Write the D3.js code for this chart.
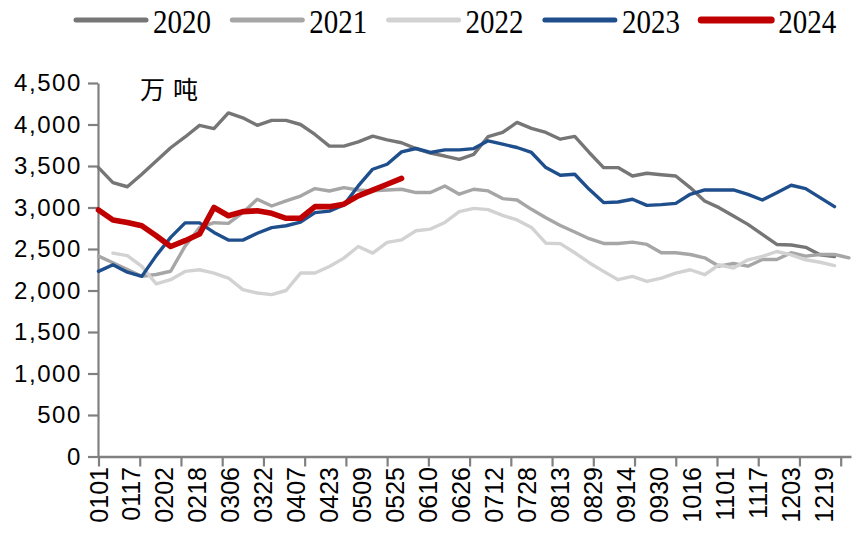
<!DOCTYPE html>
<html><head><meta charset="utf-8">
<script src="https://cdn.jsdelivr.net/npm/d3@7"></script>
<style>
body{margin:0;background:#fff;}
svg{display:block;}
</style></head>
<body>
<svg id="chart" width="865" height="542"></svg>
<script>
// ---- data (weekly points, week index i -> day 7*i of the year) ----
const years = ["2020","2021","2022","2023","2024"];
const colors = ["#767676","#a6a6a6","#d2d2d2","#1f4e8c","#c00000"];
const widths = [3.4,3.4,3.4,3.4,5.6];
const s2020 = [3480,3300,3250,3400,3560,3720,3850,3990,3950,4140,4080,3990,4050,4050,4000,3880,3740,3740,3790,3860,3815,3780,3710,3655,3620,3580,3640,3855,3904,4025,3953,3904,3823,3856,3663,3481,3481,3380,3413,3395,3380,3240,3078,2998,2897,2797,2676,2555,2548,2520,2430,2410,null];
const s2021 = [2414,2334,2253,2172,2193,2232,2534,2757,2817,2809,2938,3099,3018,3080,3138,3228,3199,3240,3211,3200,3210,3220,3180,3180,3260,3160,3220,3200,3107,3090,2978,2877,2784,2704,2624,2567,2567,2583,2555,2455,2455,2434,2394,2293,2325,2293,2374,2374,2455,2414,2434,2434,2394];
const s2022 = [null,2450,2420,2290,2080,2130,2230,2250,2210,2150,2010,1970,1950,2000,2210,2210,2290,2390,2530,2450,2580,2610,2720,2740,2820,2950,2990,2975,2905,2850,2760,2570,2565,2455,2335,2230,2130,2170,2110,2150,2210,2250,2190,2310,2270,2370,2410,2470,2430,2370,2340,2300,null];
const s2023 = [2230,2310,2220,2170,2420,2640,2815,2815,2700,2607,2607,2690,2757,2780,2824,2938,2957,3030,3260,3461,3521,3670,3711,3663,3694,3694,3710,3803,3763,3723,3663,3481,3389,3401,3219,3059,3066,3099,3026,3035,3050,3159,3211,3211,3211,3159,3090,3179,3268,3228,3119,3010,null];
const s2024 = [2970,2850,2820,2780,2660,2530,2600,2680,3000,2900,2950,2960,2930,2870,2870,3010,3010,3040,3140,3210,3280,3350];
const seriesValues = [s2020,s2021,s2022,s2023,s2024];
const xLabels = ["0101","0117","0202","0218","0306","0322","0407","0423","0509","0525","0610","0626","0712","0728","0813","0829","0914","0930","1016","1101","1117","1203","1219"];
const labelEvery = 16;   // days between labels
const tickEvery = 20;    // days between tick marks
const yTicks = [0,500,1000,1500,2000,2500,3000,3500,4000,4500];
const unitLabel = "万吨";

// ---- layout ----
const svg = d3.select("#chart");
const x = d3.scaleLinear().domain([0,365]).range([98.5,851]);
const y = d3.scaleLinear().domain([0,4500]).range([456.5,83]);
const axisColor = "#808080";

// y axis
const gy = svg.append("g").attr("transform","translate(98,0)")
  .call(d3.axisLeft(y).tickValues(yTicks).tickSize(10).tickSizeOuter(0).tickPadding(6).tickFormat(d3.format(",")));
gy.select(".domain").attr("stroke",axisColor).attr("stroke-width",2.2);
gy.selectAll(".tick line").attr("stroke",axisColor).attr("stroke-width",2.2);
gy.selectAll(".tick text").attr("fill","#000").style("font-family","'Liberation Sans',Arial,sans-serif").style("font-size","24px").style("letter-spacing","1.6px");

// x axis
const tickDays = d3.range(0,361,tickEvery);
const gx = svg.append("g").attr("transform","translate(0,456.5)")
  .call(d3.axisBottom(x).tickValues(tickDays).tickSize(10).tickSizeOuter(0).tickFormat(""));
gx.select(".domain").attr("stroke",axisColor).attr("stroke-width",2.6);
gx.selectAll(".tick line").attr("stroke",axisColor).attr("stroke-width",2.2);

svg.append("g").selectAll("text").data(xLabels).join("text")
  .attr("transform",(d,i)=>`translate(${x(i*labelEvery)},467) rotate(-90)`)
  .attr("text-anchor","end").attr("dy","0.36em")
  .style("font-family","'Liberation Sans',Arial,sans-serif").style("font-size","25px")
  .text(d=>d);

// unit
svg.append("text").attr("x",140).attr("y",99).text(unitLabel)
  .style("font-family","'Noto Sans CJK SC',sans-serif").style("font-size","25px").style("letter-spacing","8px");

// lines
const line = d3.line().defined(d=>d!=null).x((d,i)=>x(i*7)).y(d=>y(d));
seriesValues.forEach((vals,k)=>{
  svg.append("path").datum(vals).attr("d",line)
    .attr("fill","none").attr("stroke",colors[k]).attr("stroke-width",widths[k])
    .attr("stroke-linejoin","round").attr("stroke-linecap","round");
});

// legend
const lg = svg.append("g");
years.forEach((yr,k)=>{
  const x0 = 76 + k*156.3;
  lg.append("line").attr("x1",x0).attr("x2",x0+70).attr("y1",20).attr("y2",20)
    .attr("stroke",colors[k]).attr("stroke-width",k===4?7:5).attr("stroke-linecap","round");
  lg.append("text").attr("x",x0+77).attr("y",33).text(yr)
    .attr("textLength",58).attr("lengthAdjust","spacingAndGlyphs")
    .style("font-family","'Liberation Serif','Times New Roman',serif").style("font-size","34px");
});
</script>
</body></html>
